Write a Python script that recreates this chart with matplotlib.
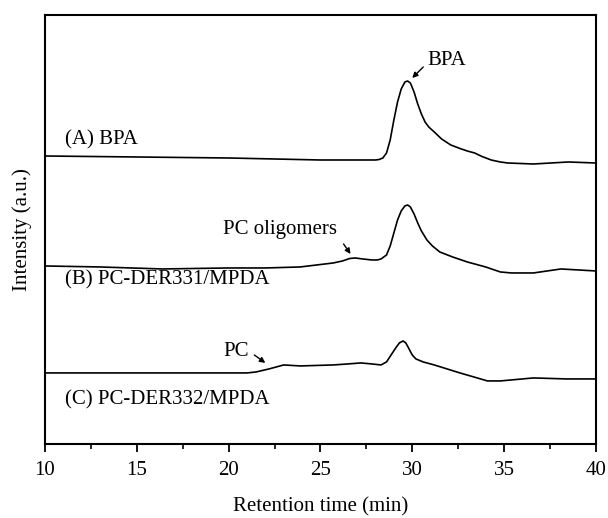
import numpy as np
import matplotlib
matplotlib.use('Agg')
import matplotlib.pyplot as plt
from matplotlib.ticker import MultipleLocator

plt.rcParams['font.family'] = ['Liberation Serif', 'DejaVu Serif']

# retention time (min) and intensity (a.u., relative to each trace's own baseline)
t_a = [10, 15, 20, 25, 28.0, 28.2, 28.4, 28.6, 28.8, 29.0, 29.2, 29.4, 29.6, 29.75,
       29.9, 30.1, 30.3, 30.5, 30.7, 30.9, 31.2, 31.6, 32.1, 32.6, 33.0, 33.4,
       33.8, 34.3, 34.8, 35.2, 36.6, 38.5, 40]
i_a = [4, 3, 2, 0, 0, 0.5, 2, 7, 20, 40, 58, 71, 78, 79,
       77, 68, 56, 46, 38, 33, 28, 21, 15, 11.5, 9, 7,
       3.5, 0, -2, -3, -4, -2, -3]

t_b = [10, 13, 16.4, 20, 22, 23.9, 25.7, 26.2, 26.6, 26.9, 27.3, 27.8, 28.1, 28.3,
       28.6, 28.8, 29.0, 29.2, 29.4, 29.6, 29.75, 29.9, 30.1, 30.3, 30.5, 30.8,
       31.1, 31.5, 32.2, 33.0, 34.0, 34.8, 35.4, 36.6, 38.1, 40]
i_b = [0, -1, -3, -2, -2, -1, 3, 5, 7.5, 8, 7, 6, 6, 7,
       11, 20, 33, 46, 55, 60, 61, 59, 52, 43, 35, 26,
       20, 14, 9, 4, -1, -6, -7, -7, -3, -5]

t_c = [10, 15, 21.0, 21.5, 22.2, 23.0, 23.9, 25.7, 26.5, 27.2, 27.8, 28.3, 28.6,
       28.85, 29.1, 29.3, 29.5, 29.65, 29.8, 30.0, 30.2, 30.6, 31.2, 32.6, 34.1,
       34.8, 36.6, 38.4, 40]
i_c = [0, 0, 0, 1, 4, 8, 7, 8, 9, 10, 9, 8, 11,
       18, 25, 30, 32, 30, 25, 18, 14, 11, 8, 0, -8,
       -8, -5, -6, -6]

offsets = [284, 178, 71]
traces = [(t_a, i_a), (t_b, i_b), (t_c, i_c)]
trace_labels = ['(A) BPA', '(B) PC-DER331/MPDA', '(C) PC-DER332/MPDA']
label_y = [304, 164, 44]

fig = plt.figure(figsize=(6.08, 5.18), dpi=100)
ax = fig.add_axes([0.074, 0.143, 0.906, 0.828])

for (t, i), off, lab, ly in zip(traces, offsets, trace_labels, label_y):
    ax.plot(t, np.array(i) + off, color='black', lw=1.2)
    ax.text(11.1, ly, lab, fontsize=15, va='center', ha='left')

arrow = dict(arrowstyle='-|>', color='black', lw=1.0, mutation_scale=8,
             shrinkA=0, shrinkB=0)
ax.annotate('', xy=(30.0, 366), xytext=(30.6, 377), arrowprops=arrow)
ax.text(31.9, 384, 'BPA', fontsize=15, ha='center', va='center')
ax.annotate('', xy=(26.64, 190), xytext=(26.26, 200), arrowprops=arrow)
ax.text(22.8, 214, 'PC oligomers', fontsize=15, ha='center', va='center')
ax.annotate('', xy=(22.0, 81), xytext=(21.4, 89), arrowprops=arrow)
ax.text(20.4, 92, 'PC', fontsize=15, ha='center', va='center')

ax.set_xlim(10, 40)
ax.set_ylim(0, 429)
ax.xaxis.set_major_locator(MultipleLocator(5))
ax.xaxis.set_minor_locator(MultipleLocator(2.5))
ax.tick_params(axis='x', which='major', direction='out', length=6, width=1.3,
               labelsize=15, pad=6)
ax.tick_params(axis='x', which='minor', direction='out', length=3.5, width=1.2)
ax.set_yticks([])
for s in ax.spines.values():
    s.set_linewidth(1.5)

ax.set_xlabel('Retention time (min)', fontsize=15, labelpad=13)
ax.set_ylabel('Intensity (a.u.)', fontsize=15, labelpad=9)

fig.savefig('out.png', dpi=100)
